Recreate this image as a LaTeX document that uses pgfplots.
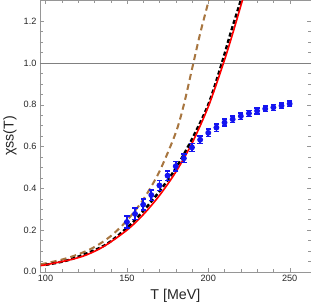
\documentclass[border=0pt]{standalone}
\usepackage{pgfplots}
\usepackage{pgfplotstable}
\pgfplotsset{compat=1.18}
\usepackage{fontspec}
\setmainfont{Liberation Sans}
\definecolor{brownc}{RGB}{168,118,64}
\definecolor{framegray}{RGB}{150,150,150}
\definecolor{dblue}{RGB}{20,20,240}
\pgfplotstableread{
T c e
150 0.238 0.028
155 0.277 0.027
160 0.321 0.026
165 0.367 0.025
170 0.413 0.024
175 0.46 0.023
180 0.505 0.022
185 0.543 0.021
190 0.595 0.02
195 0.632 0.019
200 0.665 0.018
205 0.69 0.018
210 0.714 0.017
215 0.73 0.016
220 0.745 0.016
225 0.758 0.015
230 0.77 0.015
235 0.78 0.014
240 0.787 0.014
245 0.795 0.014
250 0.804 0.014
}\lattice
\begin{document}
\begin{tikzpicture}
\begin{axis}[
 scale only axis, width=266pt, height=266.7pt,
 xmin=96.6, xmax=263, ymin=0, ymax=1.3,
 xtick={100,150,200,250}, minor x tick num=4,
 ytick={0,0.2,0.4,0.6,0.8,1.0,1.2}, minor y tick num=3,
 yticklabel style={/pgf/number format/.cd, fixed, fixed zerofill, precision=1},
 /pgf/number format/assume math mode=true,
 tick label style={font=\fontsize{9}{10}\selectfont, text=black!85},
 axis line style={framegray},
 tick style={framegray},
 major tick length=4pt, minor tick length=2.5pt,
 tick align=inside,
 xlabel={T [MeV]}, ylabel={χss(T)},
 label style={font=\fontsize{14}{16}\selectfont, text=black!85},
]
\addplot[gray, line width=0.6pt] coordinates {(96.6,1) (263,1)};
\addplot[brownc, line width=2pt, dash pattern=on 6pt off 4pt, smooth] coordinates {
(97,0.036)(100,0.040)(110,0.058)(120,0.083)(130,0.118)(140,0.17)(150,0.245)(160,0.345)(170,0.48)(180,0.665)(185,0.80)(190,0.97)(195,1.14)(200,1.29)(203,1.38)};
\addplot[black, line width=2.4pt, dash pattern=on 4pt off 2.5pt, smooth] coordinates {
(100,0.033)(115,0.058)(136,0.125)(150,0.21)(160,0.29)(170,0.385)(180,0.495)(190,0.635)(200,0.8)(208,0.99)(214,1.15)(220,1.3)(222,1.36)};
\addplot[red, line width=1.6pt, smooth] coordinates {
(97,0.03)(100,0.033)(115,0.057)(125,0.08)(136,0.122)(150,0.199)(160,0.273)(170,0.365)(180,0.477)(190,0.615)(200,0.79)(209.4,1.0)(215,1.14)(221,1.3)(223,1.35)};
\addplot[dblue, only marks, mark=none, line width=1.7pt,
 error bars/.cd, y dir=both, y explicit, error mark=none,
 error bar style={dblue, line width=1.7pt}]
 table[x=T, y=c, y error=e] {\lattice};
\addplot[dblue, only marks, mark=-, mark size=2.6pt, mark options={line width=1.5pt}]
 table[x=T, y expr=\thisrow{c}+\thisrow{e}] {\lattice};
\addplot[dblue, only marks, mark=-, mark size=2.6pt, mark options={line width=1.5pt}]
 table[x=T, y expr=\thisrow{c}-\thisrow{e}] {\lattice};
\end{axis}
\end{tikzpicture}
\end{document}
